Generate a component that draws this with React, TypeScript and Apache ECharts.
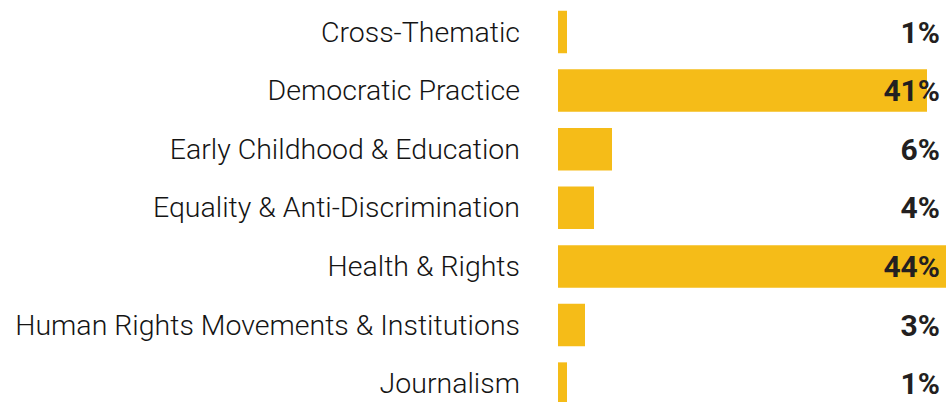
import React, { useEffect, useRef } from "react";
import * as echarts from "echarts";

const categories = [
  "Cross-Thematic",
  "Democratic Practice",
  "Early Childhood & Education",
  "Equality & Anti-Discrimination",
  "Health & Rights",
  "Human Rights Movements & Institutions",
  "Journalism",
];
const shares = [1, 41, 6, 4, 44, 3, 1];
const shareLabels = shares.map((v) => `${v}%`);

export default function App() {
  const ref = useRef<HTMLDivElement>(null);
  useEffect(() => {
    if (!ref.current) return;
    const chart = echarts.init(ref.current, null, { renderer: "svg" });
    chart.setOption({
      animation: false,
      grid: { left: 558, top: 2.7, width: 450, height: 410.2, containLabel: false },
      xAxis: { type: "value", min: 0, max: 50, show: false },
      yAxis: [
        {
          type: "category",
          data: categories,
          inverse: true,
          position: "left",
          axisLine: { show: false },
          axisTick: { show: false },
          axisLabel: {
            margin: 38,
            fontSize: 28.5,
            fontFamily: "Roboto",
            fontWeight: 300,
            color: "#141414",
          },
        },
        {
          type: "category",
          data: shareLabels,
          inverse: true,
          position: "right",
          offset: -68,
          z: 10,
          axisLine: { show: false },
          axisTick: { show: false },
          axisLabel: {
            inside: true,
            margin: 0,
            fontSize: 30,
            fontFamily: "Roboto",
            fontWeight: 700,
            color: "#231f20",
          },
        },
      ],
      series: [
        {
          type: "bar",
          data: shares,
          yAxisIndex: 0,
          barWidth: 42.5,
          itemStyle: { color: "#F5BC18" },
          z: 2,
        },
      ],
    });
    return () => chart.dispose();
  }, []);
  return (
    <div style={{ position: "absolute", left: 0, top: 0, width: 946, height: 402, overflow: "hidden" }}>
      <div ref={ref} style={{ width: 1010, height: 416 }} />
    </div>
  );
}
